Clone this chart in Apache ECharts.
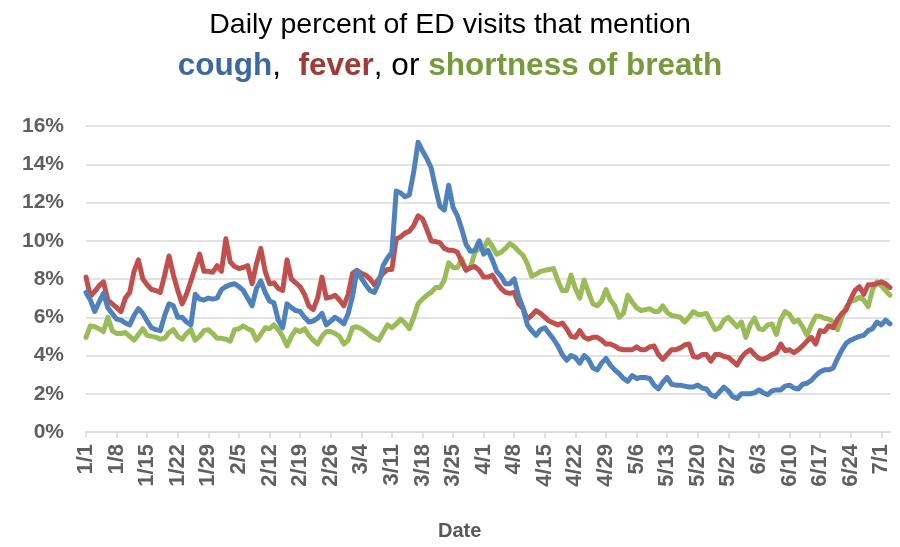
<!DOCTYPE html>
<html>
<head>
<meta charset="utf-8">
<script src="https://cdn.jsdelivr.net/npm/echarts@6/dist/echarts.min.js"></script>
<style>
html,body{margin:0;padding:0;background:#fff;}
#chart{width:900px;height:547px;}
</style>
</head>
<body>
<div id="chart"></div>
<script>
// Dates 1/1 .. 7/3 (2020, leap year)
const monthDays = [31, 29, 31, 30, 31, 30, 31];
const dates = [];
for (let m = 0; m < 7; m++) {
  for (let d = 1; d <= monthDays[m]; d++) {
    if (m === 6 && d > 3) break;
    dates.push((m + 1) + '/' + d);
  }
}

const cough = [
  7.3, 6.9, 6.3, 6.8, 7.25, 6.5, 6.2, 5.9, 5.85, 5.7, 5.6, 6.1, 6.45, 6.2, 5.8, 5.45, 5.35, 5.3, 6.1, 6.7,
  6.6, 6.0, 6.0, 5.75, 5.6, 7.2, 6.95, 6.9, 7.0, 6.95, 7.0, 7.45,
  7.6, 7.7, 7.75, 7.6, 7.4, 7.0, 6.6, 7.5, 7.9, 7.3, 6.85, 6.75, 5.85, 5.45, 6.7, 6.5, 6.35, 6.3,
  6.0, 5.75, 5.8, 5.95, 6.2, 5.6, 5.8, 6.0, 5.85, 5.65, 6.2, 7.1, 8.45, 8.05,
  7.7, 7.4, 7.3, 7.8, 8.7, 9.1, 9.4, 12.6, 12.5, 12.3, 12.4, 13.6, 15.15, 14.7, 14.3, 13.8,
  12.75, 11.8, 11.6, 12.9, 11.75, 11.3, 10.6, 9.8, 9.45, 9.5, 10.0, 9.3, 9.5, 9.0, 8.4, 8.15, 7.75,
  7.75, 8.0, 7.1, 6.5, 5.6, 5.3, 5.05, 5.35, 5.45, 5.15, 4.85, 4.5, 4.05, 3.75, 4.0, 3.9, 3.6, 4.0,
  3.8, 3.35, 3.25, 3.6, 3.85, 3.5, 3.25, 3.05, 2.8, 2.65, 2.95, 2.8, 2.85,
  2.85, 2.8, 2.45, 2.25, 2.6, 2.85, 2.5, 2.45, 2.45, 2.4, 2.35, 2.35, 2.45, 2.3, 2.25, 1.95, 1.85,
  2.1, 2.35, 2.15, 1.85, 1.75, 2.0, 2.0, 2.0, 2.05, 2.2, 2.05, 1.95, 2.15, 2.2, 2.2, 2.4,
  2.45, 2.3, 2.25, 2.5, 2.55, 2.7, 2.95, 3.15, 3.25, 3.25, 3.35, 3.85, 4.3, 4.65, 4.8, 4.9, 5.0,
  5.05, 5.3, 5.4, 5.75, 5.6, 5.85, 5.65
];

const fever = [
  8.1, 7.1, 7.35, 7.65, 7.85, 6.9, 6.7, 6.5, 6.3, 7.0, 7.3, 8.4, 9.0, 8.0, 7.7, 7.45, 7.4, 7.3, 8.2, 9.2,
  8.2, 7.4, 6.7, 7.2, 7.9, 8.6, 9.3, 8.4, 8.4, 8.35, 8.7, 8.4,
  10.1, 8.9, 8.65, 8.55, 8.6, 8.7, 7.75, 8.8, 9.6, 8.4, 7.75, 7.8, 7.5, 7.4, 9.0, 8.0, 7.8, 7.6,
  7.2, 6.6, 6.4, 7.0, 8.1, 7.0, 7.05, 7.15, 6.9, 6.6, 7.2, 8.3, 8.45, 8.3,
  8.2, 8.0, 7.7, 8.0, 8.3, 8.5, 8.5, 10.1, 10.2, 10.4, 10.5, 10.8, 11.3, 11.15, 10.6, 10.0,
  9.95, 9.9, 9.6, 9.5, 9.5, 9.4, 8.9, 8.45, 8.6, 8.65, 8.45, 8.1, 8.1, 8.2, 7.8, 7.5, 7.3,
  7.25, 7.3, 6.7, 6.45, 5.9, 6.1, 6.35, 6.2, 6.0, 5.8, 5.7, 5.6, 5.7, 5.4, 5.0, 4.95, 5.3, 4.95,
  4.85, 4.95, 4.95, 4.8, 4.6, 4.6, 4.5, 4.35, 4.3, 4.3, 4.3, 4.45, 4.3,
  4.3, 4.45, 4.5, 4.05, 3.8, 4.05, 4.3, 4.3, 4.4, 4.55, 4.6, 3.95, 3.9, 4.05, 4.05, 3.7, 4.05,
  4.05, 3.95, 3.9, 3.7, 3.5, 3.9, 4.15, 4.3, 4.05, 3.85, 3.8, 3.9, 4.05, 4.15, 4.6, 4.25,
  4.3, 4.15, 4.3, 4.5, 4.75, 4.95, 4.6, 5.3, 5.25, 5.55, 5.45, 5.9, 6.2, 6.4, 6.95, 7.4, 7.6,
  7.2, 7.7, 7.7, 7.75, 7.85, 7.75, 7.55
];

const breath = [
  4.95, 5.55, 5.5, 5.4, 5.25, 6.0, 5.3, 5.15, 5.15, 5.2, 5.0, 4.8, 5.1, 5.4, 5.05, 5.0, 4.95, 4.85, 4.9, 5.2,
  5.35, 5.0, 4.85, 5.15, 5.35, 4.8, 5.0, 5.3, 5.35, 5.15, 4.9, 4.9,
  4.85, 4.75, 5.35, 5.4, 5.55, 5.4, 5.3, 4.8, 5.1, 5.45, 5.4, 5.6, 5.35, 5.0, 4.5, 5.0, 5.35, 5.25,
  5.4, 5.05, 4.8, 4.6, 5.0, 5.25, 5.25, 5.15, 5.0, 4.6, 4.8, 5.45, 5.5, 5.4,
  5.25, 5.05, 4.9, 4.8, 5.2, 5.6, 5.45, 5.65, 5.9, 5.7, 5.4, 6.0, 6.7, 6.95, 7.15, 7.3,
  7.55, 7.55, 7.95, 8.85, 8.6, 8.6, 9.05, 8.5, 8.6, 9.4, 9.6, 9.6, 10.05, 9.7, 9.3, 9.4, 9.6,
  9.85, 9.7, 9.45, 9.25, 8.8, 8.15, 8.25, 8.4, 8.45, 8.5, 8.55, 7.9, 7.4, 7.4, 8.2, 7.5, 7.0, 7.95,
  7.3, 6.7, 6.6, 6.85, 7.45, 6.9, 6.6, 6.0, 6.2, 7.15, 6.8, 6.5, 6.35,
  6.4, 6.45, 6.3, 6.3, 6.6, 6.25, 6.1, 6.05, 6.0, 5.75, 6.0, 6.3, 6.15, 6.15, 6.2, 5.75, 5.35,
  5.45, 5.85, 6.0, 5.75, 5.5, 5.75, 4.95, 5.6, 5.95, 5.4, 5.35, 5.6, 5.65, 5.1, 5.9, 6.3,
  6.15, 5.75, 5.85, 5.5, 5.05, 5.6, 6.05, 6.05, 5.95, 5.9, 5.75, 5.35, 6.0, 6.55, 6.85, 6.9, 7.05,
  6.9, 6.55, 7.45, 7.85, 7.65, 7.4, 7.15
];

const yTicks = [0, 2, 4, 6, 8, 10, 12, 14, 16];

const chart = echarts.init(document.getElementById('chart'));
const lineStyle = (c) => ({ color: c, width: 5, join: 'round', cap: 'round' });
chart.setOption({
  animation: false,
  backgroundColor: '#ffffff',
  title: [
    {
      text: 'Daily percent of ED visits that mention',
      left: 'center', top: 6,
      textStyle: { fontFamily: 'Liberation Sans', fontSize: 28.5, fontWeight: 'normal', color: '#000000' }
    },
    {
      text: '{c|cough}{k|,  }{f|fever}{k|, or }{s|shortness of breath}',
      left: 'center', top: 45,
      textStyle: {
        rich: {
          c: { fontFamily: 'Liberation Sans', fontSize: 31.5, fontWeight: 'bold', color: '#3c68a2' },
          f: { fontFamily: 'Liberation Sans', fontSize: 31.5, fontWeight: 'bold', color: '#a03a37' },
          s: { fontFamily: 'Liberation Sans', fontSize: 31.5, fontWeight: 'bold', color: '#789a3d' },
          k: { fontFamily: 'Liberation Sans', fontSize: 31.5, fontWeight: 'normal', color: '#000000' }
        }
      }
    }
  ],
  grid: { left: 86, right: 10, top: 126, bottom: 115, containLabel: false },
  xAxis: {
    type: 'category',
    data: dates,
    boundaryGap: false,
    axisLine: { lineStyle: { color: '#d9d9d9', width: 1.5 } },
    axisTick: { show: true, interval: 6, length: 6, lineStyle: { color: '#d9d9d9', width: 1.5 } },
    axisLabel: {
      interval: 6, rotate: 90, margin: 12,
      fontFamily: 'Liberation Sans', fontSize: 22, fontWeight: 'bold', color: '#606060'
    },
    splitLine: { show: false }
  },
  yAxis: {
    type: 'value',
    min: yTicks[0], max: yTicks[yTicks.length - 1], interval: 2,
    axisLine: { show: false },
    axisTick: { show: false },
    axisLabel: {
      margin: 22, formatter: (v) => v + '%',
      fontFamily: 'Liberation Sans', fontSize: 21, fontWeight: 'bold', color: '#606060'
    },
    splitLine: { lineStyle: { color: '#d9d9d9', width: 1.5 } }
  },
  graphic: [{
    type: 'text', left: 438, top: 521,
    style: { text: 'Date', font: 'bold 20px "Liberation Sans Narrow", "Liberation Sans", sans-serif', fill: '#595959' }
  }],
  series: [
    { name: 'shortness of breath', type: 'line', data: breath, showSymbol: false, lineStyle: lineStyle('#9bbb59'), z: 2 },
    { name: 'fever', type: 'line', data: fever, showSymbol: false, lineStyle: lineStyle('#c0504d'), z: 3 },
    { name: 'cough', type: 'line', data: cough, showSymbol: false, lineStyle: lineStyle('#4f81bd'), z: 4 }
  ]
});
</script>
</body>
</html>
